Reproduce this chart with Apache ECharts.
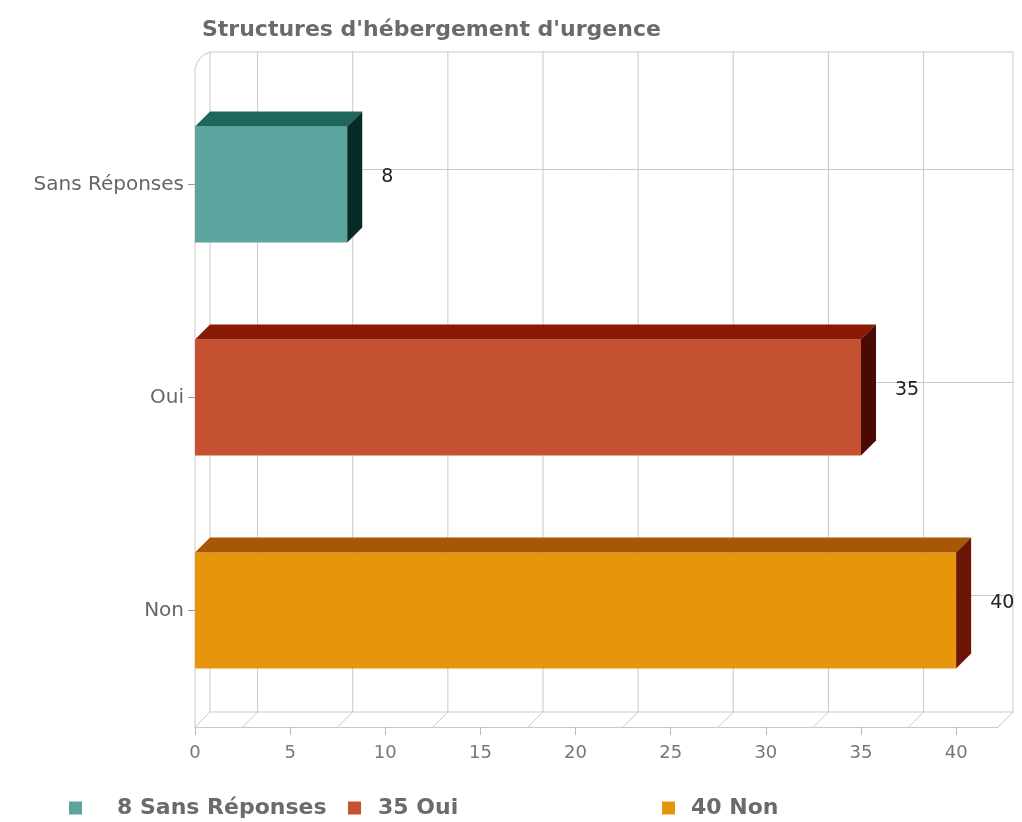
<!DOCTYPE html>
<html>
<head>
<meta charset="utf-8">
<script src="https://cdn.jsdelivr.net/npm/echarts@6/dist/echarts.min.js"></script>
<style>
html,body{margin:0;padding:0;background:#fff;}
#chart{width:1022px;height:822px;}
</style>
</head>
<body>
<div id="chart"></div>
<script>
// ---- data ----
const titleText = "Structures d'hébergement d'urgence";
const categories = ['Sans Réponses', 'Oui', 'Non'];
const values = [8, 35, 40];
const xTickValues = [0, 5, 10, 15, 20, 25, 30, 35, 40];
const backGridValues = [2.5, 7.5, 12.5, 17.5, 22.5, 27.5, 32.5, 37.5];

// ---- styles ----
const frontColors = ['#5BA59E', '#C45230', '#E5960B'];
const topColors = ['#1F665F', '#8A1A04', '#A85706'];
const sideColors = ['#082B27', '#4A0905', '#6B1604'];
const DX = 15, DY = -15;
const FONT = 'DejaVu Sans';
const frameColor = '#c9c9c9';

const chart = echarts.init(document.getElementById('chart'));

function renderFrame(params, api) {
  const cs = params.coordSys;
  const x0 = cs.x, x1 = cs.x + cs.width;
  const yT = cs.y - 11, yB = cs.y + cs.height + 10;
  const ls = { stroke: frameColor, lineWidth: 1 };
  const line = (a, b, c, d) => ({ type: 'line', shape: { x1: a, y1: b, x2: c, y2: d }, style: ls });
  const ch = [];
  // back wall
  ch.push(line(x0 + DX, yT + DY, x1 + DX, yT + DY));
  ch.push(line(x1 + DX, yT + DY, x1 + DX, yB + DY));
  ch.push(line(x0 + DX, yB + DY, x1 + DX, yB + DY));
  ch.push(line(x0 + DX, yT + DY, x0 + DX, yB + DY));
  // left wall front edge with rounded top
  ch.push({ type: 'path', shape: { pathData: 'M' + x0 + ' ' + yB + ' L' + x0 + ' ' + (yT + 2) + ' Q' + (x0 + 3) + ' ' + (yT + DY + 3) + ' ' + (x0 + DX) + ' ' + (yT + DY) }, style: { stroke: frameColor, lineWidth: 1, fill: null } });
  // floor
  ch.push(line(x0 + DX, yB + DY, x0, yB));
  ch.push(line(x1 + DX, yB + DY, x1, yB));
  // back vertical grid lines + floor diagonals
  backGridValues.forEach(v => {
    const xb = api.coord([v, 0])[0] + DX;
    ch.push(line(xb, yT + DY, xb, yB + DY));
    ch.push(line(xb, yB + DY, xb - DX, yB));
  });
  // back horizontal grid lines at categories
  categories.forEach((c, i) => {
    const y = api.coord([0, i])[1] + DY;
    ch.push(line(x0 + DX, y, x1 + DX, y));
  });
  return { type: 'group', children: ch };
}

function makeBarRenderer(idx) {
  return function (params, api) {
    const v = api.value(0), c = api.value(1);
    const p0 = api.coord([0, c]), p1 = api.coord([v, c]);
    const h = api.size([0, 1])[1] * 0.545;
    const yT = p0[1] - h / 2, yB = p0[1] + h / 2;
    const xa = p0[0], xb = p1[0];
    return {
      type: 'group',
      children: [
        { type: 'rect', shape: { x: xa, y: yT, width: xb - xa, height: h }, style: { fill: frontColors[idx] } },
        { type: 'polygon', shape: { points: [[xa, yT], [xb, yT], [xb + DX, yT + DY], [xa + DX, yT + DY]] }, style: { fill: topColors[idx] } },
        { type: 'polygon', shape: { points: [[xb, yT], [xb + DX, yT + DY], [xb + DX, yB + DY], [xb, yB]] }, style: { fill: sideColors[idx] } },
        { type: 'text', style: { x: xb + DX + 19, y: p1[1] - 7, text: String(v), fill: '#222', font: '19px "' + FONT + '"', verticalAlign: 'middle', align: 'left' } }
      ]
    };
  };
}

const series = [{
  type: 'custom',
  name: '__frame',
  silent: true,
  z: 1,
  data: [[0, 0]],
  renderItem: renderFrame
}];
categories.forEach((c, i) => {
  series.push({
    type: 'custom',
    name: c,
    z: 2,
    itemStyle: { color: frontColors[i] },
    data: [[values[i], i]],
    renderItem: makeBarRenderer(i),
    encode: { x: 0, y: 1 }
  });
});

const legendLeft = [64, 343, 657];
const legendPad = [30, 12, 11];
const legends = categories.map((c, i) => ({
  data: [c],
  left: legendLeft[i],
  top: 792,
  icon: 'rect',
  itemWidth: 13,
  itemHeight: 13,
  selectedMode: false,
  formatter: name => values[categories.indexOf(name)] + ' ' + name,
  textStyle: { fontFamily: FONT, fontWeight: 'bold', fontSize: 22, color: '#6b6b6b', padding: [0, 0, 0, legendPad[i]] }
}));

chart.setOption({
  animation: false,
  backgroundColor: '#fff',
  title: {
    text: titleText,
    left: 197,
    top: 14,
    textStyle: { fontFamily: FONT, fontWeight: 'bold', fontSize: 22, color: '#6a6a6a' }
  },
  legend: legends,
  grid: { left: 195, right: 24, top: 78, height: 639 },
  xAxis: {
    type: 'value',
    min: 0,
    max: 42.2,
    interval: 5,
    offset: 10,
    splitLine: { show: false },
    axisLine: { show: true, lineStyle: { color: frameColor } },
    axisTick: { show: true, length: 8, customValues: xTickValues, lineStyle: { color: '#bbb' } },
    axisLabel: { customValues: xTickValues, color: '#777', fontFamily: FONT, fontSize: 18, margin: 17 }
  },
  yAxis: {
    type: 'category',
    data: categories,
    inverse: true,
    axisLine: { show: false },
    axisTick: { show: true, length: 7, alignWithLabel: true, lineStyle: { color: '#999' } },
    axisLabel: { color: '#666', fontFamily: FONT, fontSize: 20, margin: 11 },
    splitLine: { show: false }
  },
  series: series
});
</script>
</body>
</html>
